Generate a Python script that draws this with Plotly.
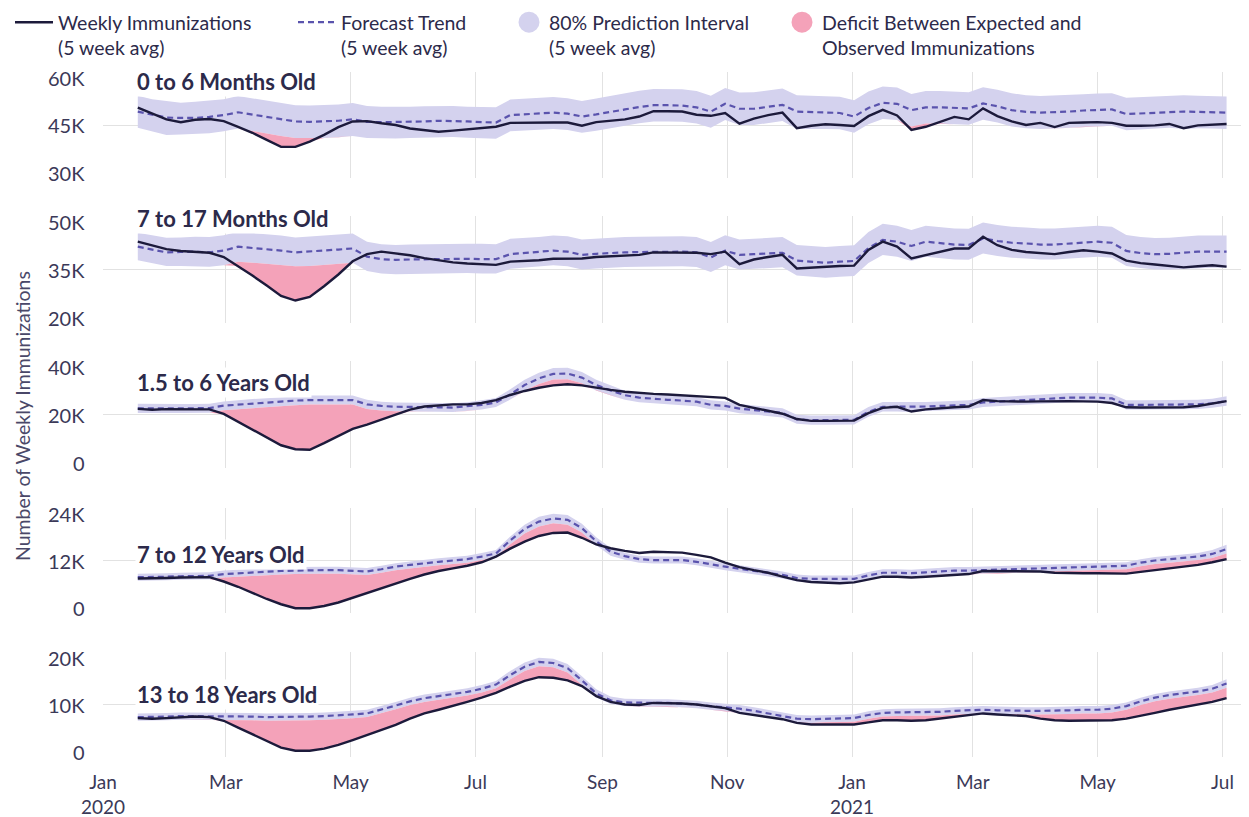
import plotly.graph_objects as go
import pandas as pd

# ---------------- data (values in thousands of weekly immunizations) ----------------
dates = pd.date_range("2020-01-18", periods=77, freq="7D")

panel_titles = ["0 to 6 Months Old", "7 to 17 Months Old", "1.5 to 6 Years Old",
                "7 to 12 Years Old", "13 to 18 Years Old"]
y_ranges = [[30000, 60000], [20000, 50000], [0, 40000], [0, 24000], [0, 20000]]
y_tickvals = [[30000, 45000, 60000], [20000, 35000, 50000], [0, 20000, 40000],
              [0, 12000, 24000], [0, 10000, 20000]]
title_y = [57200, 49400, 32100, 13300, 12000]

month_ticks = ["2020-01-01", "2020-03-01", "2020-05-01", "2020-07-01", "2020-09-01",
               "2020-11-01", "2021-01-01", "2021-03-01", "2021-05-01", "2021-07-01"]
month_labels = ["Jan<br>2020", "Mar", "May", "Jul", "Sep", "Nov", "Jan<br>2021", "Mar", "May", "Jul"]

obs_0_6m = [49.9, 48.2, 46.6, 45.8, 46.5, 46.7, 46.1, 44.5, 42.8, 40.8,
            38.8, 38.8, 40.3, 42.2, 44.4, 46.0, 46.1, 45.5, 45.0, 44.0,
            43.5, 43.1, 43.4, 43.8, 44.2, 44.5, 45.6, 45.7, 45.7, 45.7,
            45.7, 44.8, 45.8, 46.3, 46.6, 47.4, 48.9, 48.9, 48.8, 47.9,
            47.6, 48.4, 45.4, 46.8, 47.8, 48.5, 44.1, 44.8, 45.2, 45.0,
            44.7, 47.5, 49.3, 47.7, 43.6, 44.5, 45.8, 47.3, 46.6, 49.7,
            47.5, 46.0, 45.0, 45.6, 44.4, 45.6, 45.7, 45.8, 45.6, 44.8,
            44.8, 44.9, 45.3, 44.1, 44.9, 45.2, 45.3]
fc_0_6m = [48.8, 48.0, 47.1, 47.0, 47.0, 47.3, 47.8, 48.6, 48.0, 47.2,
           46.6, 46.0, 45.9, 46.0, 46.2, 46.6, 45.9, 45.8, 45.8, 45.9,
           46.0, 46.2, 46.2, 46.0, 45.8, 45.7, 47.8, 48.0, 48.2, 48.5,
           48.2, 47.4, 48.0, 48.8, 49.4, 50.1, 50.6, 50.6, 50.5, 50.0,
           48.8, 51.0, 49.6, 49.6, 50.2, 50.7, 48.8, 48.6, 48.5, 48.4,
           47.4, 49.8, 51.3, 51.0, 49.2, 50.0, 50.0, 49.8, 49.7, 51.1,
           50.3, 49.2, 48.7, 48.5, 48.6, 48.8, 49.1, 49.3, 49.4, 48.1,
           48.3, 48.6, 48.8, 48.8, 48.7, 48.6, 48.5]
hi_0_6m = [53.3, 52.3, 51.8, 51.3, 51.6, 51.9, 52.3, 53.2, 52.6, 51.8,
           51.2, 50.6, 50.5, 50.6, 50.8, 51.2, 50.4, 50.2, 50.1, 50.2,
           50.3, 50.4, 50.4, 50.2, 50.1, 50.0, 52.2, 52.4, 52.6, 52.9,
           52.6, 51.8, 52.5, 53.3, 54.0, 54.7, 55.2, 55.2, 55.1, 54.6,
           53.3, 55.5, 54.2, 54.3, 54.9, 55.3, 53.4, 53.2, 53.1, 53.0,
           52.0, 54.5, 55.9, 55.6, 53.8, 54.6, 54.6, 54.4, 54.3, 55.7,
           55.0, 54.0, 53.4, 53.2, 53.3, 53.5, 53.7, 53.9, 54.0, 52.7,
           52.9, 53.2, 53.4, 53.4, 53.3, 53.2, 53.1]
lo_0_6m = [44.2, 43.2, 42.2, 42.3, 42.4, 42.7, 43.2, 44.0, 43.3, 42.5,
           41.9, 41.3, 41.2, 41.3, 41.5, 41.9, 41.3, 41.2, 41.2, 41.3,
           41.4, 41.6, 41.6, 41.4, 41.2, 41.1, 43.2, 43.4, 43.6, 43.9,
           43.6, 42.8, 43.4, 44.2, 44.8, 45.5, 46.0, 46.0, 45.9, 45.4,
           44.2, 46.4, 45.0, 45.0, 45.6, 46.1, 43.9, 44.0, 43.9, 43.8,
           42.8, 45.2, 46.7, 46.4, 44.6, 45.4, 45.4, 45.2, 45.1, 46.5,
           45.7, 44.6, 44.1, 43.9, 44.0, 44.2, 44.5, 44.7, 44.8, 43.5,
           43.7, 44.0, 44.2, 43.9, 44.1, 44.0, 43.9]

obs_7_17m = [42.8, 41.8, 40.7, 40.2, 39.9, 39.7, 38.5, 36.0, 33.3, 30.5,
             27.6, 26.3, 27.3, 30.3, 33.6, 37.3, 39.3, 40.0, 39.6, 39.0,
             38.2, 37.5, 37.0, 36.7, 36.5, 36.3, 37.2, 37.3, 37.6, 38.0,
             38.1, 38.1, 38.5, 38.7, 38.9, 39.1, 39.8, 39.8, 39.8, 39.7,
             39.3, 40.0, 36.5, 37.8, 38.5, 39.1, 35.3, 35.6, 35.8, 36.0,
             36.1, 40.5, 42.8, 41.4, 38.1, 39.0, 39.8, 40.9, 40.9, 44.2,
             41.8, 40.5, 39.9, 39.7, 39.3, 39.9, 40.4, 40.0, 39.5, 37.5,
             36.8, 36.4, 36.0, 35.6, 35.9, 36.2, 35.8]
fc_7_17m = [41.4, 40.6, 39.8, 39.9, 40.0, 39.8, 40.3, 41.4, 41.1, 40.7,
            40.3, 39.8, 40.0, 40.3, 40.6, 40.9, 38.6, 37.9, 37.7, 37.8,
            37.9, 38.0, 38.1, 38.0, 37.9, 37.9, 39.3, 39.6, 39.9, 40.3,
            40.0, 39.1, 39.4, 39.7, 39.8, 39.9, 40.0, 40.0, 40.0, 39.8,
            38.4, 40.3, 39.1, 39.3, 39.5, 39.7, 37.5, 37.1, 36.9, 37.2,
            37.4, 41.0, 43.3, 42.8, 41.6, 42.8, 42.4, 42.0, 41.9, 43.7,
            43.0, 42.5, 42.3, 42.0, 42.0, 42.3, 42.6, 42.8, 42.5, 40.2,
            39.6, 39.3, 39.4, 39.7, 40.0, 40.0, 40.0]
hi_7_17m = [45.3, 44.6, 43.9, 44.0, 44.2, 44.1, 44.6, 45.6, 45.3, 44.9,
            44.5, 44.0, 44.2, 44.5, 44.8, 45.1, 42.8, 42.1, 41.9, 42.0,
            42.1, 42.2, 42.3, 42.2, 42.2, 42.1, 43.6, 43.8, 44.1, 44.5,
            44.3, 43.4, 43.7, 44.0, 44.1, 44.2, 44.3, 44.3, 44.3, 44.1,
            42.7, 44.6, 43.4, 43.6, 43.9, 44.1, 41.9, 41.5, 41.3, 41.6,
            41.8, 45.5, 47.8, 47.3, 46.1, 47.3, 46.9, 46.5, 46.4, 48.2,
            47.5, 47.0, 46.8, 46.5, 46.5, 46.8, 47.1, 47.3, 47.0, 44.7,
            44.1, 43.8, 43.9, 44.2, 44.5, 44.5, 44.5]
lo_7_17m = [37.6, 36.8, 36.0, 36.0, 36.0, 35.8, 36.2, 37.2, 36.9, 36.6,
            36.3, 35.9, 36.0, 36.3, 36.6, 36.9, 34.6, 33.9, 33.7, 33.8,
            33.9, 34.0, 34.1, 34.0, 33.9, 33.9, 35.2, 35.5, 35.8, 36.2,
            35.9, 35.0, 35.3, 35.6, 35.7, 35.8, 35.9, 35.9, 35.9, 35.7,
            34.3, 36.2, 35.0, 35.2, 35.4, 35.6, 33.3, 32.9, 32.7, 33.0,
            33.2, 36.8, 39.1, 38.6, 37.4, 38.6, 38.2, 37.8, 37.7, 39.5,
            38.8, 38.3, 38.1, 37.8, 37.8, 38.1, 38.4, 38.6, 38.3, 36.0,
            35.4, 35.0, 35.0, 35.2, 35.5, 35.5, 35.5]

obs_1_6y = [22.1, 21.8, 22.0, 21.9, 22.0, 21.9, 20.2, 17.2, 14.5, 11.3,
            8.5, 7.0, 6.8, 9.3, 12.0, 14.6, 16.2, 18.0, 19.8, 21.8,
            23.0, 23.5, 23.8, 23.8, 24.3, 25.4, 27.3, 28.8, 30.0, 30.9,
            31.3, 30.9, 30.0, 29.2, 28.5, 28.0, 27.7, 27.5, 27.2, 26.8,
            26.5, 26.2, 23.6, 22.5, 21.3, 20.3, 18.3, 17.6, 17.6, 17.6,
            17.7, 20.5, 22.5, 22.9, 21.1, 21.9, 22.4, 22.7, 23.0, 25.4,
            25.0, 24.8, 24.8, 24.9, 25.0, 25.0, 24.9, 24.8, 24.3, 22.7,
            22.6, 22.6, 22.7, 22.7, 23.2, 24.0, 25.0]
fc_1_6y = [22.3, 22.2, 22.3, 22.3, 22.3, 22.4, 23.3, 23.7, 24.1, 24.4,
           24.8, 25.2, 25.4, 25.4, 25.4, 25.4, 23.8, 23.2, 22.9, 22.9,
           22.8, 22.7, 22.6, 23.0, 23.6, 24.5, 27.5, 31.0, 33.5, 35.2,
           35.3, 33.8, 31.0, 29.0, 27.2, 26.3, 25.8, 25.5, 25.2, 24.8,
           23.6, 23.2, 22.2, 21.6, 21.1, 20.6, 18.2, 17.9, 17.9, 17.9,
           18.0, 21.0, 22.9, 22.9, 22.9, 23.0, 23.2, 23.4, 23.6, 24.5,
           24.8, 25.1, 25.4, 25.8, 26.1, 26.3, 26.3, 26.3, 26.0, 23.6,
           23.6, 23.6, 23.7, 23.7, 23.8, 24.2, 25.0]
hi_1_6y = [24.0, 23.9, 24.0, 23.9, 23.9, 24.0, 24.9, 25.4, 25.8, 26.1,
           26.5, 26.9, 27.1, 27.1, 27.1, 27.1, 25.5, 24.8, 24.5, 24.5,
           24.4, 24.3, 24.2, 24.6, 25.3, 26.2, 29.4, 33.0, 35.6, 37.4,
           37.5, 35.9, 33.0, 30.8, 28.9, 28.0, 27.5, 27.2, 26.9, 26.5,
           25.3, 24.9, 23.9, 23.3, 22.8, 22.3, 19.9, 19.6, 19.6, 19.6,
           19.7, 22.8, 24.7, 24.7, 24.6, 24.7, 24.9, 25.1, 25.3, 26.2,
           26.5, 26.8, 27.1, 27.5, 27.8, 28.0, 28.0, 28.0, 27.7, 25.3,
           25.3, 25.3, 25.4, 25.4, 25.5, 25.9, 26.8]
lo_1_6y = [20.6, 20.5, 20.6, 20.6, 20.6, 20.7, 21.6, 22.0, 22.4, 22.7,
           23.1, 23.5, 23.7, 23.7, 23.7, 23.7, 22.1, 21.5, 21.2, 21.2,
           21.1, 21.0, 20.9, 21.3, 21.9, 22.8, 25.6, 29.0, 31.4, 33.1,
           33.2, 31.7, 29.0, 27.2, 25.5, 24.6, 24.1, 23.8, 23.5, 23.1,
           21.9, 21.5, 20.5, 19.9, 19.4, 18.9, 16.5, 16.2, 16.2, 16.2,
           16.3, 19.2, 21.1, 21.1, 20.9, 21.3, 21.5, 21.7, 21.9, 22.8,
           23.1, 23.4, 23.7, 24.1, 24.4, 24.6, 24.6, 24.6, 24.3, 21.9,
           21.9, 21.9, 22.0, 22.0, 22.1, 22.5, 23.3]

obs_7_12y = [7.9, 7.9, 8.0, 8.1, 8.2, 8.2, 7.2, 6.0, 4.6, 3.2,
             2.0, 1.1, 1.1, 1.6, 2.4, 3.5, 4.5, 5.7, 6.8, 7.8,
             8.8, 9.6, 10.2, 10.8, 11.6, 12.9, 14.7, 16.3, 17.6, 18.3,
             18.4, 17.2, 15.7, 14.8, 14.2, 13.7, 14.0, 13.9, 13.8, 13.3,
             12.7, 11.5, 10.5, 9.8, 9.2, 8.3, 7.5, 7.1, 6.9, 6.8,
             7.0, 7.6, 8.3, 8.3, 8.1, 8.3, 8.5, 8.6, 8.9, 9.6,
             9.6, 9.6, 9.6, 9.5, 9.2, 9.1, 9.1, 9.1, 9.0, 9.0,
             9.4, 9.8, 10.2, 10.6, 11.0, 11.6, 12.3]
fc_7_12y = [8.2, 8.2, 8.3, 8.4, 8.5, 8.5, 8.9, 9.1, 9.3, 9.5,
            9.6, 9.7, 9.8, 9.8, 9.8, 9.6, 9.5, 10.0, 10.6, 11.0,
            11.4, 11.7, 12.0, 12.3, 12.9, 13.6, 16.6, 19.2, 20.9, 21.6,
            21.3, 19.4, 16.4, 14.0, 13.0, 12.3, 12.1, 12.1, 12.1, 11.7,
            11.1, 10.6, 10.1, 9.6, 9.2, 8.7, 8.0, 7.8, 7.8, 7.8,
            7.8, 8.6, 9.2, 9.2, 9.1, 9.3, 9.5, 9.7, 9.7, 9.8,
            9.8, 9.9, 10.0, 10.2, 10.2, 10.3, 10.4, 10.5, 10.6, 10.8,
            11.5, 12.0, 12.3, 12.6, 12.9, 13.5, 14.6]
hi_7_12y = [9.0, 9.0, 9.1, 9.2, 9.3, 9.3, 9.7, 9.9, 10.1, 10.3,
            10.4, 10.5, 10.6, 10.6, 10.6, 10.4, 10.3, 10.8, 11.4, 11.8,
            12.2, 12.5, 12.8, 13.1, 13.7, 14.4, 17.5, 20.2, 22.0, 22.7,
            22.4, 20.4, 17.3, 14.9, 13.8, 13.1, 12.9, 12.9, 12.9, 12.5,
            11.9, 11.4, 10.9, 10.4, 10.0, 9.5, 8.8, 8.6, 8.6, 8.6,
            8.6, 9.4, 10.0, 10.0, 9.9, 10.1, 10.3, 10.5, 10.5, 10.6,
            10.6, 10.7, 10.8, 11.0, 11.0, 11.1, 11.2, 11.3, 11.4, 11.6,
            12.3, 12.8, 13.1, 13.4, 13.7, 14.4, 15.6]
lo_7_12y = [7.4, 7.4, 7.5, 7.6, 7.7, 7.7, 8.1, 8.3, 8.5, 8.7,
            8.8, 8.9, 9.0, 9.0, 9.0, 8.8, 8.7, 9.2, 9.8, 10.2,
            10.6, 10.9, 11.2, 11.5, 12.1, 12.8, 15.7, 18.2, 19.8, 20.5,
            20.2, 18.4, 15.5, 13.1, 12.2, 11.5, 11.3, 11.3, 11.3, 10.9,
            10.3, 9.8, 9.3, 8.8, 8.4, 7.9, 7.2, 7.0, 7.0, 7.0,
            7.0, 7.8, 8.4, 8.4, 8.3, 8.5, 8.7, 8.9, 8.9, 9.0,
            9.0, 9.1, 9.2, 9.4, 9.4, 9.5, 9.6, 9.7, 9.8, 10.0,
            10.7, 11.2, 11.5, 11.8, 12.1, 12.6, 13.6]

obs_13_18y = [7.4, 7.3, 7.4, 7.6, 7.7, 7.6, 6.9, 5.6, 4.3, 3.0,
              1.8, 1.2, 1.2, 1.6, 2.3, 3.2, 4.2, 5.1, 6.1, 7.3,
              8.3, 9.0, 9.7, 10.5, 11.3, 12.2, 13.4, 14.5, 15.2, 15.1,
              14.6, 13.5, 11.6, 10.5, 10.0, 9.9, 10.3, 10.3, 10.2, 10.0,
              9.6, 9.3, 8.4, 8.0, 7.7, 7.2, 6.5, 6.2, 6.2, 6.2,
              6.2, 6.6, 7.0, 7.0, 6.9, 7.0, 7.3, 7.6, 7.9, 8.3,
              8.1, 7.9, 7.8, 7.3, 7.0, 6.9, 6.9, 6.9, 7.0, 7.3,
              7.8, 8.4, 9.0, 9.5, 10.0, 10.5, 11.2]
fc_13_18y = [7.6, 7.6, 7.7, 7.8, 7.8, 7.8, 7.8, 7.8, 7.7, 7.6,
             7.6, 7.6, 7.7, 7.8, 7.9, 8.1, 8.3, 9.0, 9.8, 10.6,
             11.2, 11.6, 12.0, 12.4, 13.0, 13.8, 15.6, 17.2, 18.1, 17.9,
             16.9, 14.6, 12.1, 10.8, 10.4, 10.3, 10.3, 10.3, 10.2, 10.0,
             9.7, 9.5, 9.2, 8.8, 8.3, 7.9, 7.3, 7.2, 7.3, 7.4,
             7.4, 8.0, 8.4, 8.5, 8.5, 8.6, 8.6, 8.8, 8.9, 9.0,
             8.9, 8.8, 8.8, 8.8, 8.8, 8.9, 9.0, 9.0, 9.2, 9.7,
             10.6, 11.3, 11.8, 12.1, 12.5, 13.0, 14.0]
hi_13_18y = [8.3, 8.3, 8.4, 8.5, 8.5, 8.5, 8.5, 8.5, 8.4, 8.3,
             8.3, 8.3, 8.4, 8.5, 8.6, 8.8, 9.0, 9.7, 10.5, 11.3,
             11.9, 12.3, 12.7, 13.1, 13.7, 14.5, 16.4, 18.0, 18.9, 18.7,
             17.7, 15.4, 12.9, 11.5, 11.1, 11.0, 11.0, 11.0, 10.9, 10.7,
             10.4, 10.2, 9.9, 9.5, 9.0, 8.6, 8.0, 7.9, 8.0, 8.1,
             8.1, 8.7, 9.1, 9.2, 9.2, 9.3, 9.3, 9.5, 9.6, 9.7,
             9.6, 9.5, 9.5, 9.5, 9.5, 9.6, 9.7, 9.7, 9.9, 10.4,
             11.3, 12.0, 12.5, 12.8, 13.2, 13.7, 14.8]
lo_13_18y = [6.9, 6.9, 7.0, 7.1, 7.1, 7.1, 7.1, 7.1, 7.0, 6.9,
             6.9, 6.9, 7.0, 7.1, 7.2, 7.4, 7.6, 8.3, 9.1, 9.9,
             10.5, 10.9, 11.3, 11.7, 12.3, 13.1, 14.8, 16.4, 17.3, 17.1,
             16.1, 13.8, 11.4, 10.1, 9.7, 9.6, 9.6, 9.6, 9.5, 9.3,
             9.0, 8.8, 8.5, 8.1, 7.6, 7.2, 6.6, 6.5, 6.6, 6.7,
             6.7, 7.3, 7.7, 7.8, 7.8, 7.9, 7.9, 8.1, 8.2, 8.3,
             8.2, 8.1, 8.1, 8.1, 8.1, 8.2, 8.3, 8.3, 8.5, 9.0,
             9.9, 10.6, 11.1, 11.4, 11.8, 12.3, 13.2]

observed = [obs_0_6m, obs_7_17m, obs_1_6y, obs_7_12y, obs_13_18y]
forecast = [fc_0_6m, fc_7_17m, fc_1_6y, fc_7_12y, fc_13_18y]
pi_high = [hi_0_6m, hi_7_17m, hi_1_6y, hi_7_12y, hi_13_18y]
pi_low = [lo_0_6m, lo_7_17m, lo_1_6y, lo_7_12y, lo_13_18y]

# ---------------- styling ----------------
FONT = "Lato"
C_OBS = "#1c1a3b"
C_FC = "#5a53ad"
C_BAND = "#d4d2ee"
C_PINK = "#f4a2b9"
C_TEXT = "#2c2a4a"
C_TICK = "#3b3958"
C_GRID = "#e2e2e2"

# page body has an 8px margin, so figure coords = screen coords - OFF
OFF = 8
W, H = 1249 - OFF, 817 - OFF
ML, MT = 103 - OFF, 72 - OFF
PLOT_RIGHT, PLOT_BOTTOM = 1245 - OFF, 757 - OFF
MR, MB = W - PLOT_RIGHT, H - PLOT_BOTTOM
PW, PH = PLOT_RIGHT - ML, PLOT_BOTTOM - MT
panel_top_px = [72, 216, 361, 508, 652]      # screen pixels
panel_bot_px = [178, 323, 468, 613, 757]


def ypap(p):
    return (PLOT_BOTTOM - (p - OFF)) / PH


def xpap(p):
    return (p - OFF - ML) / PW


def k(v):
    return [x * 1000 for x in v]


def fmt_tick(v):
    return "0" if v == 0 else f"{int(v // 1000)}K"


fig = go.Figure()
annotations = []

for i in range(5):
    xa = "x" if i == 0 else f"x{i + 1}"
    ya = "y" if i == 0 else f"y{i + 1}"
    obs = k(observed[i])
    fc = k(forecast[i])
    hi = k(pi_high[i])
    lo = k(pi_low[i])
    deficit = [min(a, b) for a, b in zip(obs, lo)]

    common = dict(x=dates, xaxis=xa, yaxis=ya, hoverinfo="skip")
    fig.add_trace(go.Scatter(y=lo, mode="lines", line=dict(width=0), showlegend=False, **common))
    fig.add_trace(go.Scatter(y=hi, mode="lines", line=dict(width=0), fill="tonexty",
                             fillcolor=C_BAND, showlegend=False, **common))
    fig.add_trace(go.Scatter(y=lo, mode="lines", line=dict(width=0), showlegend=False, **common))
    fig.add_trace(go.Scatter(y=deficit, mode="lines", line=dict(width=0), fill="tonexty",
                             fillcolor=C_PINK, showlegend=False, **common))
    fig.add_trace(go.Scatter(y=fc, mode="lines", line=dict(color=C_FC, width=2.2, dash="6px,4px"),
                             name="Forecast Trend<br>(5 week avg)", legend="legend2",
                             showlegend=(i == 0), **common))
    fig.add_trace(go.Scatter(y=obs, mode="lines", line=dict(color=C_OBS, width=2.4),
                             name="Weekly Immunizations<br>(5 week avg)", legend="legend",
                             showlegend=(i == 0), **common))

    xkey = "xaxis" if i == 0 else f"xaxis{i + 1}"
    ykey = "yaxis" if i == 0 else f"yaxis{i + 1}"
    xax = dict(domain=[0, 1], anchor=ya, type="date", range=["2020-01-01", "2021-07-12"],
               tickvals=month_ticks, ticktext=month_labels, showgrid=True, gridcolor=C_GRID,
               gridwidth=1, zeroline=False, showline=False, ticks="",
               showticklabels=(i == 4), tickfont=dict(family=FONT, size=19, color=C_TICK),
               ticklabelstandoff=12)
    if i > 0:
        xax["matches"] = "x"
    fig.layout[xkey] = xax
    fig.layout[ykey] = dict(domain=[ypap(panel_bot_px[i]), ypap(panel_top_px[i])], anchor=xa,
                            range=y_ranges[i], tickvals=y_tickvals[i], showticklabels=False,
                            showgrid=True, gridcolor=C_GRID, gridwidth=1, zeroline=False,
                            showline=False, ticks="")

    # y tick labels, first/last kept flush inside the panel
    for v in y_tickvals[i]:
        if v == max(y_tickvals[i]):
            anchor, ys = "top", 8
        elif v == min(y_tickvals[i]):
            anchor, ys = "bottom", -9
        else:
            anchor, ys = "middle", 0
        annotations.append(dict(text=fmt_tick(v), xref="paper", x=0, xanchor="right", xshift=-16,
                                yref=ya, y=v, yanchor=anchor, yshift=ys, showarrow=False,
                                font=dict(family=FONT, size=20, color=C_TICK)))
    annotations.append(dict(text=panel_titles[i], xref=xa, x=dates[0], xanchor="left", xshift=-3,
                            yref=ya, y=title_y[i], yanchor="middle", showarrow=False,
                            bgcolor="white", borderpad=1,
                            font=dict(family=FONT, size=22, color=C_TEXT, weight=700)))

# legend swatches for the two shaded areas
fig.add_trace(go.Scatter(x=[None], y=[None], mode="markers",
                         marker=dict(size=16, color=C_BAND, line=dict(color=C_BAND, width=5)),
                         name="80% Prediction Interval<br>(5 week avg)", legend="legend3"))
fig.add_trace(go.Scatter(x=[None], y=[None], mode="markers",
                         marker=dict(size=16, color=C_PINK, line=dict(color=C_PINK, width=5)),
                         name="Deficit Between Expected and<br>Observed Immunizations", legend="legend4"))

annotations.append(dict(text="Number of Weekly Immunizations", xref="paper", x=xpap(22),
                        xanchor="center", yref="paper", y=ypap(416), yanchor="middle",
                        textangle=-90, showarrow=False,
                        font=dict(family=FONT, size=19.5, color="#4a4868")))

leg_font = dict(family=FONT, size=19.5, color=C_TEXT)
leg_common = dict(orientation="h", yanchor="top", y=ypap(3), xanchor="left", font=leg_font,
                  bgcolor="rgba(0,0,0,0)", borderwidth=0, valign="top", traceorder="normal")

fig.update_layout(
    width=W, height=H,
    margin=dict(l=ML, r=MR, t=MT, b=MB, autoexpand=False),
    paper_bgcolor="white", plot_bgcolor="white",
    font=dict(family=FONT, color=C_TEXT),
    annotations=annotations,
    legend=dict(x=xpap(10), itemwidth=38, **leg_common),
    legend2=dict(x=xpap(293), itemwidth=38, **leg_common),
    legend3=dict(x=xpap(509), itemwidth=30, **leg_common),
    legend4=dict(x=xpap(782), itemwidth=30, **leg_common),
    showlegend=True,
)

fig.write_html("out.html")
